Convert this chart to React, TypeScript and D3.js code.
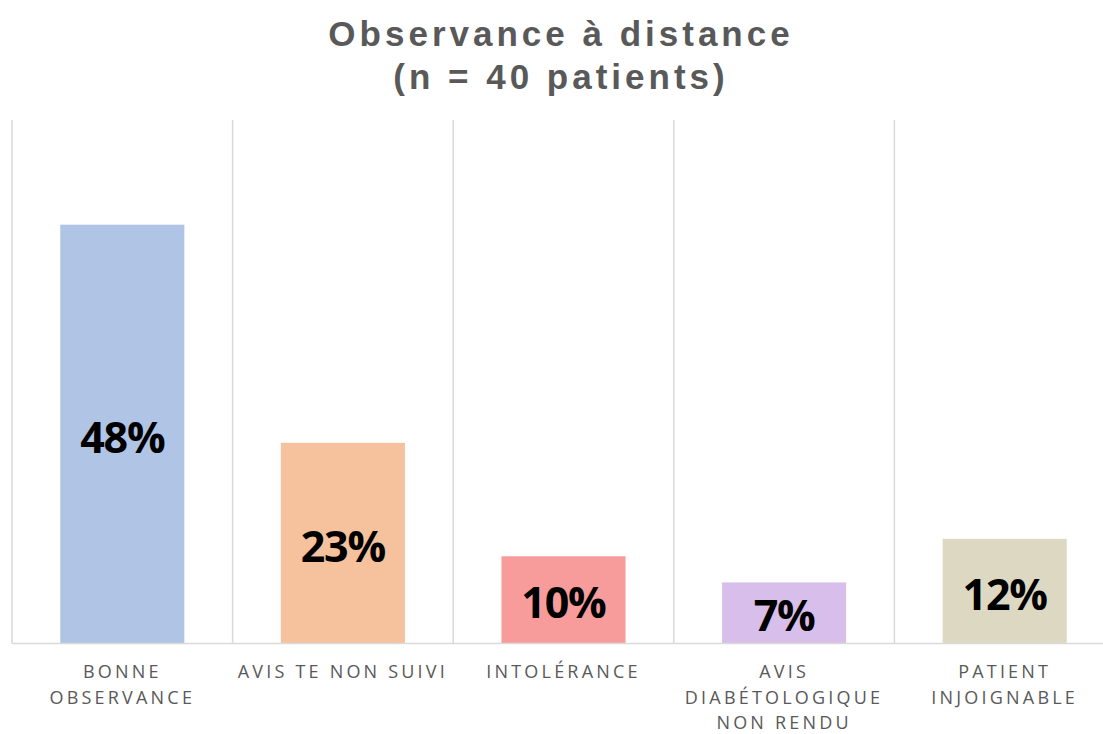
import React from "react";
import * as d3 from "d3";

const categories = ["BONNE OBSERVANCE", "AVIS TE NON SUIVI", "INTOLÉRANCE", "AVIS DIABÉTOLOGIQUE NON RENDU", "PATIENT INJOIGNABLE"];
const categoryLines = [["BONNE", "OBSERVANCE"], ["AVIS TE NON SUIVI"], ["INTOLÉRANCE"], ["AVIS", "DIABÉTOLOGIQUE", "NON RENDU"], ["PATIENT", "INJOIGNABLE"]];
const values = [48, 23, 10, 7, 12];
const valueLabels = ["48%", "23%", "10%", "7%", "12%"];
const colors = ["#B0C4E6", "#F6C19D", "#F79C9B", "#D8BEEA", "#DDD8C2"];
const titleLines = ["Observance à distance", "(n = 40 patients)"];

export default function App() {
  const W = 1103, H = 734;
  const left = 12, right = 1115, top = 120, bottom = 643.5;
  const x = d3.scaleBand<string>().domain(categories).range([left, right]).padding(0);
  const y = d3.scaleLinear().domain([0, 60]).range([bottom, top]);
  const bw = x.bandwidth() * 0.5625;
  const grid = categories.map((c) => x(c) as number).concat([right]);
  return (
    <svg width={W} height={H} style={{ position: "absolute", left: 0, top: 0, background: "#fff" }}>
      <g fontFamily="'Liberation Sans', Arial, sans-serif" fontWeight="bold" fill="#595959" fontSize={35} textAnchor="middle" letterSpacing={4}>
        {titleLines.map((t, i) => (
          <text key={i} x={561} y={46 + i * 42.5}>{t}</text>
        ))}
      </g>
      {grid.map((gx, i) => (
        <line key={i} x1={gx} x2={gx} y1={top} y2={bottom} stroke="#D9D9D9" strokeWidth={1.5} />
      ))}
      {categories.map((c, i) => {
        const cx = (x(c) as number) + x.bandwidth() / 2;
        return (
          <rect key={c} x={cx - bw / 2} y={y(values[i])} width={bw} height={bottom - y(values[i])} fill={colors[i]} />
        );
      })}
      <line x1={left} x2={right} y1={bottom} y2={bottom} stroke="#D9D9D9" strokeWidth={1.5} />
      {categories.map((c, i) => {
        const cx = (x(c) as number) + x.bandwidth() / 2;
        const cy = (y(values[i]) + bottom) / 2;
        return (
          <text key={c} x={cx} y={cy} dy="0.43em" textAnchor="middle" fontFamily="'Open Sans', sans-serif" fontWeight="bold" fontSize={43} fill="#000" letterSpacing={-1.2}>
            {valueLabels[i]}
          </text>
        );
      })}
      {categories.map((c, i) => {
        const cx = (x(c) as number) + x.bandwidth() / 2;
        return (
          <text key={c} textAnchor="middle" fontFamily="'Open Sans', sans-serif" fontSize={18} fill="#595959" letterSpacing={3.2}>
            {categoryLines[i].map((l, j) => (
              <tspan key={j} x={cx} y={678 + j * 25.5}>{l}</tspan>
            ))}
          </text>
        );
      })}
    </svg>
  );
}
